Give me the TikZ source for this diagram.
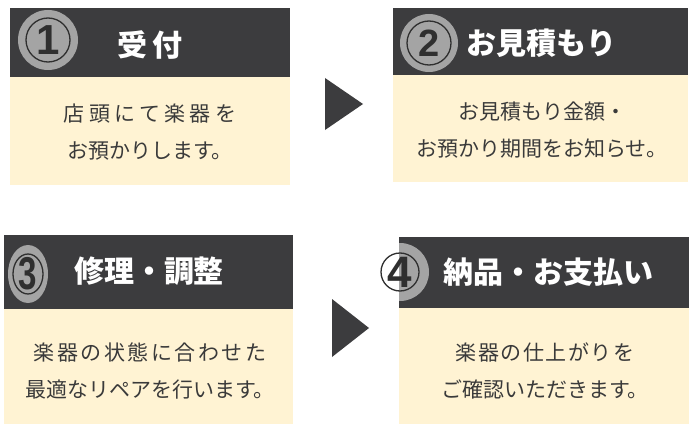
\documentclass[tikz,border=0pt]{standalone}
\usepackage{fontspec}
\setmainfont{Noto Sans CJK JP}
\newfontfamily\digitfont{Liberation Sans}
\usetikzlibrary{positioning}
\definecolor{headgray}{HTML}{3C3C3E}
\definecolor{bodycream}{HTML}{FFF3D3}
\definecolor{discgray}{HTML}{A4A4A4}
\definecolor{inkgray}{HTML}{2F2F2F}
\definecolor{textgray}{HTML}{3A3A3A}
\newcommand{\lsp}[2]{{\addfontfeatures{LetterSpace=#1}#2}}

\tikzset{
	headbar/.style={fill=headgray},
	bodybox/.style={fill=bodycream},
	nexttri/.style={fill=headgray},
	steptitle/.style={text=white, inner sep=0pt, font=\bfseries\fontsize{30}{30}\selectfont},
	stepnote/.style={text=textgray, align=center, inner sep=0pt, font=\fontsize{21}{37}\selectfont},
	numdisc/.style={fill=discgray},
	numring/.style={draw=inkgray, line width=1.3pt},
	numdigit/.style={text=inkgray, inner sep=0pt, font=\digitfont\bfseries\fontsize{42}{42}\selectfont},
}

\begin{document}
\begin{tikzpicture}[x=1pt, y=-1pt]
	\fill[white] (0,0) rectangle (699,428);
	\useasboundingbox (0,0) rectangle (699,428);

	% Step boxes: dark header over cream body
	\fill[headbar] (10,8) rectangle (290,77);
	\fill[bodybox] (10,77) rectangle (290,185);
	\fill[headbar] (393,8) rectangle (688,75);
	\fill[bodybox] (393,75) rectangle (688,182);
	\fill[headbar] (4,235) rectangle (293,309);
	\fill[bodybox] (4,309) rectangle (293,424);
	\fill[headbar] (399,237) rectangle (689,308);
	\fill[bodybox] (399,308) rectangle (689,424);

	% Triangles between steps
	\fill[nexttri] (325,78) -- (363,104) -- (325,130) -- cycle;
	\fill[nexttri] (332,299) -- (369,328) -- (332,357) -- cycle;

	% Circled numbers
	\fill[numdisc] (48,40) circle (30pt);
	\draw[numring] (48,40) circle (22pt);
	\node[numdigit] (num1) at (48,40) {1};

	\fill[numdisc] (429,43) circle (29pt);
	\draw[numring] (429,43) circle (22pt);
	\node[numdigit, font=\digitfont\bfseries\fontsize{38}{38}\selectfont] (num2) at (429,43) {2};

	\fill[numdisc] (28,274) ellipse (20pt and 29pt);
	\draw[numring] (28,274) ellipse (15pt and 20pt);
	\node[numdigit, font=\digitfont\bfseries\fontsize{46}{46}\selectfont] (num3) at (28,274) {\scalebox{0.72}[1]{3}};

	\begin{scope}
		\clip (399,237) rectangle (689,308);
		\fill[numdisc] (400,272) circle (29pt);
	\end{scope}
	\draw[numring] (400,272) circle (19pt);
	\node[numdigit, font=\digitfont\bfseries\fontsize{44}{44}\selectfont] (num4) at (400,272) {4};

	% Step titles
	\node[steptitle] (title1) at (150,45) {受\,付};
	\node[steptitle] (title2) at (541,43) {お見積もり};
	\node[steptitle] (title3) at (149,271) {修理・調整};
	\node[steptitle] (title4) at (548,272) {納品・お支払い};

	% Step descriptions
	\node[stepnote] (note1) at (150,132) {\lsp{20}{店頭にて楽器を}\\お預かりします。};
	\node[stepnote] (note2) at (542,130) {お見積もり金額・\\お預かり期間をお知らせ。};
	\node[stepnote] (note3) at (150,371) {\lsp{12}{楽器の状態に合わせた}\\最適なリペアを行います。};
	\node[stepnote] (note4) at (545,371) {\lsp{7}{楽器の仕上がりを}\\ご確認いただきます。};
\end{tikzpicture}
\end{document}
